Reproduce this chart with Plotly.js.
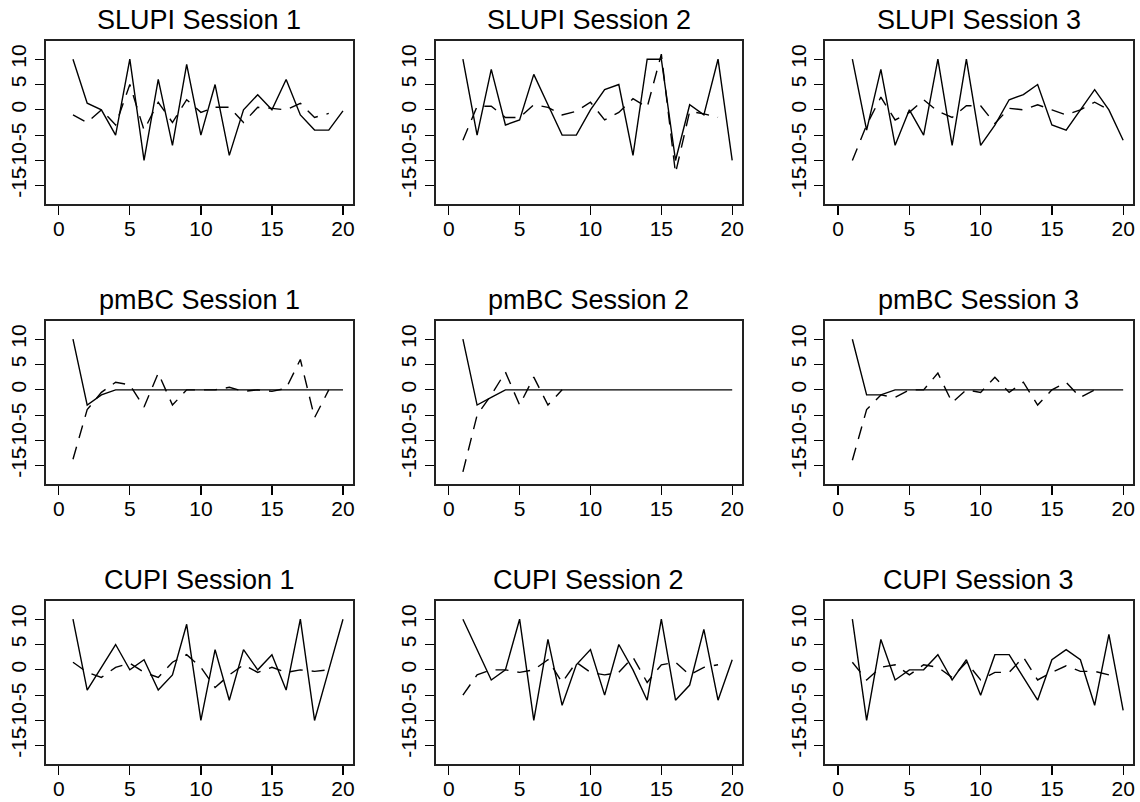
<!DOCTYPE html>
<html>
<head>
<meta charset="utf-8">
<script src="https://cdn.plot.ly/plotly-3.0.1.min.js"></script>
<style>html,body{margin:0;padding:0;background:#fff;}#chart{width:1140px;height:802px;}</style>
</head>
<body>
<div id="chart"></div>
<script>
// ---- data ----
const rounds = [1,2,3,4,5,6,7,8,9,10,11,12,13,14,15,16,17,18,19,20];
const titles = ["SLUPI Session 1","SLUPI Session 2","SLUPI Session 3",
                "pmBC Session 1","pmBC Session 2","pmBC Session 3",
                "CUPI Session 1","CUPI Session 2","CUPI Session 3"];
const xTicks = [0,5,10,15,20];
const yTicks = [-15,-10,-5,0,5,10];
const yTickText = ["-15","-10","-5","0","5","10"];

const slupi1Solid  = [10,1.3,0,-5,10,-10,6,-7,9,-5,5,-9,0,3,0,6,-1,-4,-4,-0.2];
const slupi1Dashed = [-1,-2.5,0,-3,5,-4,1.5,-2.5,2,-0.5,0.5,0.5,-2.5,0.5,0.3,0,1.3,-1.5,-0.7];
const slupi2Solid  = [10,-5,8,-3,-2,7,1,-5,-5,0,4,5,-9,10,10,-10,1,-1,10,-10];
const slupi2Dashed = [-6,0.7,0.7,-1.5,-1.5,1,0.5,-1,-0.3,1.5,-2,-0.5,2.2,0.5,11,-12.5,-0.3,-0.8,-1.5];
const slupi3Solid  = [10,-4,8,-7,0,-5,10,-7,10,-7,-3,2,3,5,-3,-4,0,4,0,-6];
const slupi3Dashed = [-10,-3,2.5,-2,-0.5,2,-0.3,-1.5,0.8,0.8,-2.7,0.3,0,1,0,-1,0,1.5,0];
const pmbc1Solid   = [10,-3,-1,0,0,0,0,0,0,0,0,0,0,0,0,0,0,0,0,0];
const pmbc1Dashed  = [-13.7,-3.9,-0.5,1.5,1,-3.4,3.3,-3,0,0,0,0.5,-0.3,0,-0.3,0.3,6,-5.5,0];
const pmbc2Solid   = [10,-3,-1.5,0,0,0,0,0,0,0,0,0,0,0,0,0,0,0,0,0];
const pmbc2Dashed  = [-16.2,-5,-1,3.5,-3,2.5,-3,0];
const pmbc3Solid   = [10,-1,-1,0,0,0,0,0,0,0,0,0,0,0,0,0,0,0,0,0];
const pmbc3Dashed  = [-13.9,-3.9,-1,-1.5,0,0,3.3,-2.5,0,-0.5,2.5,-0.5,1.5,-3,0,1.5,-1.5,0];
const cupi1Solid   = [10,-4,0.5,5,0,2,-4,-1,9,-10,4,-6,4,0,3,-4,10,-10,0,10];
const cupi1Dashed  = [1.5,-0.5,-1.5,0.5,1.3,-0.5,-1.5,1.5,3,0.5,-3.5,-1,1,-0.5,0.5,-0.5,0,-0.3,0];
const cupi2Solid   = [10,4,-2,0,10,-10,6,-7,1,4,-5,5,0,-6,10,-6,-3,8,-6,2];
const cupi2Dashed  = [-5,-1,0,0,-0.5,0,2,-2.5,1.5,-0.5,-1,-0.5,2.5,-2.5,1,1.5,-1,0.5,1];
const cupi3Solid   = [10,-10,6,-2,0,0,3,-2,2,-5,3,3,-1.5,-6,2,4,2,-7,7,-8];
const cupi3Dashed  = [1.5,-2,0.5,1,-1,1,0.5,-1.5,1.5,-2,-0.5,-0.5,2.5,-2,-0.5,0.8,-0.3,-0.3,-1];

const solidSeries  = [slupi1Solid,slupi2Solid,slupi3Solid,pmbc1Solid,pmbc2Solid,pmbc3Solid,cupi1Solid,cupi2Solid,cupi3Solid];
const dashedSeries = [slupi1Dashed,slupi2Dashed,slupi3Dashed,pmbc1Dashed,pmbc2Dashed,pmbc3Dashed,cupi1Dashed,cupi2Dashed,cupi3Dashed];

// ---- layout geometry (pixels) ----
const W = 1140, H = 802;
const colLeft = [45.7, 435.7, 825.0];
const colRight = [352.5, 741.7, 1132.7];
const rowTop = [41, 321, 601];
const rowBottom = [204, 484, 764];

const FONT = "Liberation Sans, Arial, sans-serif";
const traces = [];
const layout = {
  width: W, height: H,
  margin: {l:0, r:0, t:0, b:0},
  paper_bgcolor: "#fff", plot_bgcolor: "#fff",
  showlegend: false,
  font: {family: FONT, color: "#000"},
  annotations: []
};

for (let i = 0; i < 9; i++) {
  const r = Math.floor(i / 3), c = i % 3;
  const n = i + 1;
  const xa = n === 1 ? "x" : "x" + n;
  const ya = n === 1 ? "y" : "y" + n;
  traces.push({
    x: rounds.slice(0, solidSeries[i].length), y: solidSeries[i],
    xaxis: xa, yaxis: ya, type: "scatter", mode: "lines",
    line: {color: "#000", width: 1.4}, hoverinfo: "skip"
  });
  traces.push({
    x: rounds.slice(0, dashedSeries[i].length), y: dashedSeries[i],
    xaxis: xa, yaxis: ya, type: "scatter", mode: "lines",
    line: {color: "#000", width: 1.4, dash: "13px,9px"}, hoverinfo: "skip"
  });
  const xKey = n === 1 ? "xaxis" : "xaxis" + n;
  const yKey = n === 1 ? "yaxis" : "yaxis" + n;
  layout[xKey] = {
    domain: [colLeft[c] / W, colRight[c] / W],
    anchor: ya, range: [-0.92, 20.67],
    tickmode: "array", tickvals: xTicks, ticktext: xTicks.map(String),
    ticks: "outside", ticklen: 9, tickwidth: 1.3, tickcolor: "#000",
    ticklabelstandoff: -4,
    showline: true, mirror: true, linecolor: "#222", linewidth: 2,
    showgrid: false, zeroline: false,
    tickfont: {family: FONT, size: 21, color: "#000"}
  };
  layout[yKey] = {
    domain: [1 - rowBottom[r] / H, 1 - rowTop[r] / H],
    anchor: xa, range: [-18.6, 13.6],
    tickmode: "array", tickvals: yTicks, ticktext: yTickText,
    tickangle: -90,
    ticks: "outside", ticklen: 9, tickwidth: 1.3, tickcolor: "#000",
    showline: true, mirror: true, linecolor: "#222", linewidth: 2,
    showgrid: false, zeroline: false,
    tickfont: {family: FONT, size: 21, color: "#000"}
  };
  layout.annotations.push({
    text: titles[i], showarrow: false,
    xref: "paper", yref: "paper",
    x: (colLeft[c] + colRight[c]) / 2 / W, xanchor: "center",
    y: 1 - (20 + 280 * r) / H, yanchor: "middle",
    font: {family: FONT, size: 27, color: "#000"}
  });
}

Plotly.newPlot("chart", traces, layout, {displayModeBar: false, staticPlot: true});
</script>
</body>
</html>
